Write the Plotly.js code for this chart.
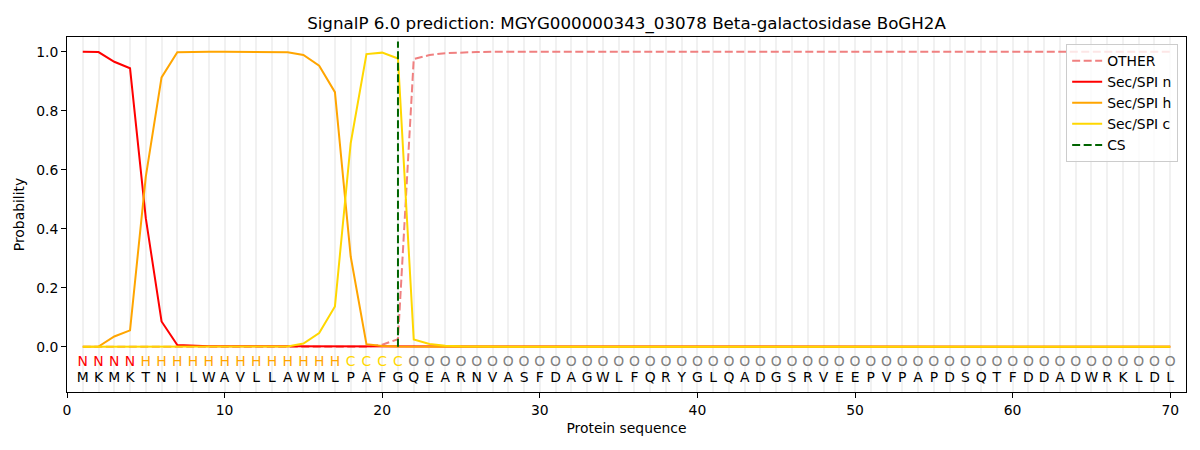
<!DOCTYPE html>
<html>
<head>
<meta charset="utf-8">
<script src="https://cdn.plot.ly/plotly-3.0.1.min.js"></script>
<style>
  body { margin: 0; background: #fff; }
  #canvas { width: 1200px; height: 450px; }
</style>
</head>
<body>
<div id="canvas"></div>
<script>
// chart text
const TITLE = "SignalP 6.0 prediction: MGYG000000343_03078 Beta-galactosidase BoGH2A";
const FONT = "DejaVu Sans, sans-serif";

// sequence and per-residue state labels
const residues = "MKMKTNILWAVLLAWMLPAFGQEARNVASFDAGWLFQRYGLQADGSRVEEPVPAPDSQTFDDADWRKLDL".split("");
const stateLabels = ("NNNNHHHHHHHHHHHHHCCCC" +
    "OOOOOOOOOOOOOOOOOOOOOOOOOOOOOOOOOOOOOOOOOOOOOOOOO").split("");
const csPosition = 21;

// probabilities, one value per residue
const probOther = [
    0, 0, 0, 0, 0, 0, 0, 0, 0, 0,
    0, 0, 0, 0, 0, 0, 0, 0, 0, 0.007,
    0.026, 0.975, 0.989, 0.995, 0.998, 0.999, 1, 1, 1, 1,
    1, 1, 1, 1, 1, 1, 1, 1, 1, 1,
    1, 1, 1, 1, 1, 1, 1, 1, 1, 1,
    1, 1, 1, 1, 1, 1, 1, 1, 1, 1,
    1, 1, 1, 1, 1, 1, 1, 1, 1, 1
];
const probN = [
    1.0, 0.999, 0.966, 0.944, 0.436, 0.086, 0.006, 0.003, 0.002, 0.002,
    0.002, 0.002, 0.002, 0.002, 0.001, 0.001, 0.001, 0.001, 0.001, 0.001,
    0, 0, 0, 0, 0, 0, 0, 0, 0, 0,
    0, 0, 0, 0, 0, 0, 0, 0, 0, 0,
    0, 0, 0, 0, 0, 0, 0, 0, 0, 0,
    0, 0, 0, 0, 0, 0, 0, 0, 0, 0,
    0, 0, 0, 0, 0, 0, 0, 0, 0, 0
];
const probH = [
    0, 0.001, 0.035, 0.056, 0.577, 0.913, 0.998, 1, 1, 1,
    1, 1, 1, 0.998, 0.989, 0.953, 0.863, 0.306, 0.009, 0.003,
    0.001, 0, 0, 0, 0, 0, 0, 0, 0, 0,
    0, 0, 0, 0, 0, 0, 0, 0, 0, 0,
    0, 0, 0, 0, 0, 0, 0, 0, 0, 0,
    0, 0, 0, 0, 0, 0, 0, 0, 0, 0,
    0, 0, 0, 0, 0, 0, 0, 0, 0, 0
];
const probC = [
    0, 0, 0, 0, 0, 0, 0, 0, 0, 0,
    0, 0, 0, 0.001, 0.011, 0.047, 0.137, 0.69, 0.992, 0.997,
    0.977, 0.025, 0.01, 0.004, 0.002, 0.001, 0, 0, 0, 0,
    0, 0, 0, 0, 0, 0, 0, 0, 0, 0,
    0, 0, 0, 0, 0, 0, 0, 0, 0, 0,
    0, 0, 0, 0, 0, 0, 0, 0, 0, 0,
    0, 0, 0, 0, 0, 0, 0, 0, 0, 0
];

const stateColors = { N: "red", H: "orange", C: "gold", O: "grey" };
const positions = residues.map((_, i) => i + 1);

const lineTrace = (y, name, color, dash) => ({
    x: positions, y: y, name: name, mode: "lines",
    line: { color: color, width: 2, dash: dash || "solid" },
    hoverinfo: "skip"
});

var getPlotData = () => [
    lineTrace(probOther, "OTHER", "lightcoral", "8px,3.5px"),
    lineTrace(probN, "Sec/SPI n", "red"),
    lineTrace(probH, "Sec/SPI h", "orange"),
    lineTrace(probC, "Sec/SPI c", "gold"),
    {
        x: [csPosition, csPosition], y: [0, 1.035], name: "CS", mode: "lines",
        line: { color: "darkgreen", width: 2, dash: "8px,3.5px" }, hoverinfo: "skip"
    },
    // state letters row
    {
        x: positions, y: positions.map(() => -0.052), xaxis: "x2", mode: "text",
        text: stateLabels, showlegend: false, hoverinfo: "skip",
        textfont: { family: FONT, size: 13.9, color: stateLabels.map(s => stateColors[s]) }
    },
    // residue letters row
    {
        x: positions, y: positions.map(() => -0.107), xaxis: "x2", mode: "text",
        text: residues, showlegend: false, hoverinfo: "skip",
        textfont: { family: FONT, size: 13.9, color: "black" }
    }
];

var getPlotLayout = () => ({
    width: 1200,
    height: 450,
    margin: { l: 67, r: 14, t: 37, b: 58 },
    paper_bgcolor: "white",
    plot_bgcolor: "white",
    font: { family: FONT, size: 13.9, color: "black" },
    title: {
        text: TITLE, font: { family: FONT, size: 16.7, color: "black" },
        x: 0.5, xref: "paper", y: 0.949, yref: "container", yanchor: "middle"
    },
    xaxis: {
        range: [0, 71], tickvals: [0, 10, 20, 30, 40, 50, 60, 70],
        showgrid: false, zeroline: false,
        showline: true, linecolor: "black", linewidth: 1, mirror: true,
        ticks: "outside", ticklen: 5, tickcolor: "black",
        title: { text: "Protein sequence", font: { size: 13.9 }, standoff: 6 }
    },
    xaxis2: {
        range: [0, 71], overlaying: "x", anchor: "y", tickvals: positions,
        showticklabels: false, ticks: "", showgrid: true,
        gridcolor: "#f1f1f1", gridwidth: 2, zeroline: false, showline: false
    },
    yaxis: {
        range: [-0.153, 1.05], tickvals: [0, 0.2, 0.4, 0.6, 0.8, 1.0],
        tickformat: ".1f", showgrid: false, zeroline: false,
        showline: true, linecolor: "black", linewidth: 1, mirror: true,
        ticks: "outside", ticklen: 5, tickcolor: "black",
        title: { text: "Probability", font: { size: 13.9 }, standoff: 8 }
    },
    legend: {
        x: 0.993, xanchor: "right", y: 0.98, yanchor: "top",
        bgcolor: "rgba(255,255,255,0.8)", bordercolor: "#cccccc", borderwidth: 1,
        font: { family: FONT, size: 13.9 }
    },
    showlegend: true
});

function drawPlot() {
    Plotly.newPlot("canvas", getPlotData(), getPlotLayout(), { staticPlot: true });
}

drawPlot();
</script>
</body>
</html>
